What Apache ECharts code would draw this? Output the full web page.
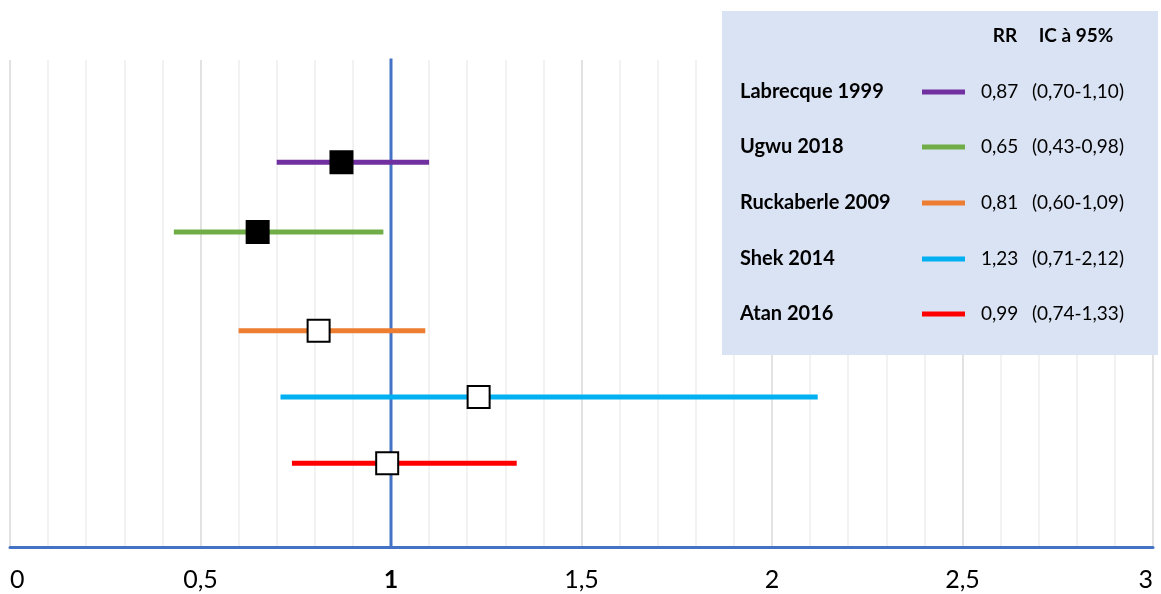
<!DOCTYPE html>
<html><head><meta charset="utf-8">
<script src="https://cdn.jsdelivr.net/npm/echarts@6/dist/echarts.min.js"></script>
<style>html,body{margin:0;padding:0;background:#fff}#c{width:1161px;height:594px}</style>
</head><body><div id="c"></div>
<script>
const studies = ['Labrecque 1999','Ugwu 2018','Ruckaberle 2009','Shek 2014','Atan 2016'];
const rr = [0.87, 0.65, 0.81, 1.23, 0.99];
const ciLow = [0.70, 0.43, 0.60, 0.71, 0.74];
const ciHigh = [1.10, 0.98, 1.09, 2.12, 1.33];
const rrText = ['0,87','0,65','0,81','1,23','0,99'];
const ciText = ['(0,70-1,10)','(0,43-0,98)','(0,60-1,09)','(0,71-2,12)','(0,74-1,33)'];
const rowPos = [79, 64.7, 44.4, 30.8, 17.2];
const filled = [true, true, false, false, false];
const colors = ['#7030A0','#70AD47','#ED7D31','#00B0F0','#FF0000'];
const xTicks = {0:'0',0.5:'0,5',1:'1',1.5:'1,5',2:'2',2.5:'2,5',3:'3'};

const FONT = 'Lato';
const series = [];
series.push({
  type:'line', silent:true, symbol:'none', z:1,
  data:[[1,0],[1,100.6]],
  lineStyle:{color:'#4472C4', width:3}
});
studies.forEach((s,i)=>{
  series.push({
    type:'line', name:s, silent:true, symbol:'none', z:2,
    data:[[ciLow[i],rowPos[i]],[ciHigh[i],rowPos[i]]],
    lineStyle:{color:colors[i], width:5}
  });
});
series.push({
  type:'scatter', symbol:'rect', symbolSize:22, z:5,
  data: rr.map((v,i)=>({value:[v,rowPos[i]], itemStyle: filled[i]
    ? {color:'#000', borderColor:'#000', borderWidth:2, opacity:1}
    : {color:'#fff', borderColor:'#000', borderWidth:2, opacity:1}}))
});

const graphics = [];
const bx=722, by=11, bw=436, bh=344;
graphics.push({type:'rect', shape:{x:bx,y:by,width:bw,height:bh}, style:{fill:'#DAE3F3'}, z:10});
graphics.push({type:'text', x:1005, y:36, style:{text:'RR', font:'bold 19px '+FONT, fill:'#000', textAlign:'center', textVerticalAlign:'middle'}, z:11});
graphics.push({type:'text', x:1076, y:36, style:{text:'IC à 95%', font:'bold 19px '+FONT, fill:'#000', textAlign:'center', textVerticalAlign:'middle'}, z:11});
const legY = [92, 147, 203, 259, 314];
studies.forEach((s,i)=>{
  const y = legY[i];
  graphics.push({type:'text', x:740, y:y, style:{text:s, font:'bold 20px '+FONT, fill:'#000', textAlign:'left', textVerticalAlign:'middle'}, z:11});
  graphics.push({type:'line', shape:{x1:922,y1:y,x2:965,y2:y}, style:{stroke:colors[i], lineWidth:5}, z:11});
  graphics.push({type:'text', x:981, y:y, style:{text:rrText[i], font:'19px '+FONT, fill:'#000', textAlign:'left', textVerticalAlign:'middle'}, z:11});
  graphics.push({type:'text', x:1032, y:y, style:{text:ciText[i], font:'19px '+FONT, fill:'#000', textAlign:'left', textVerticalAlign:'middle'}, z:11});
});

const chart = echarts.init(document.getElementById('c'));
chart.setOption({
  animation:false,
  grid:{left:10, right:8, top:60, bottom:47, containLabel:false},
  xAxis:{
    type:'value', min:0, max:3, interval:0.5,
    axisLine:{show:true, lineStyle:{color:'#4472C4', width:3}},
    axisTick:{show:false},
    minorTick:{show:false, splitNumber:5},
    splitLine:{show:true, lineStyle:{color:'#D9D9D9', width:1.5}},
    minorSplitLine:{show:true, lineStyle:{color:'#EEEEEE', width:1.5}},
    axisLabel:{
      margin:20, fontSize:25, fontFamily:FONT, color:'#000',
      alignMinLabel:'left', alignMaxLabel:'right',
      formatter:(v)=> v===1 ? '{b|1}' : (xTicks[v] !== undefined ? xTicks[v] : ''),
      rich:{b:{fontWeight:'bold', fontSize:25, fontFamily:FONT, color:'#000'}}
    }
  },
  yAxis:{type:'value', min:0, max:100, show:false, splitLine:{show:false}},
  series: series,
  graphic: graphics
});
</script></body></html>
